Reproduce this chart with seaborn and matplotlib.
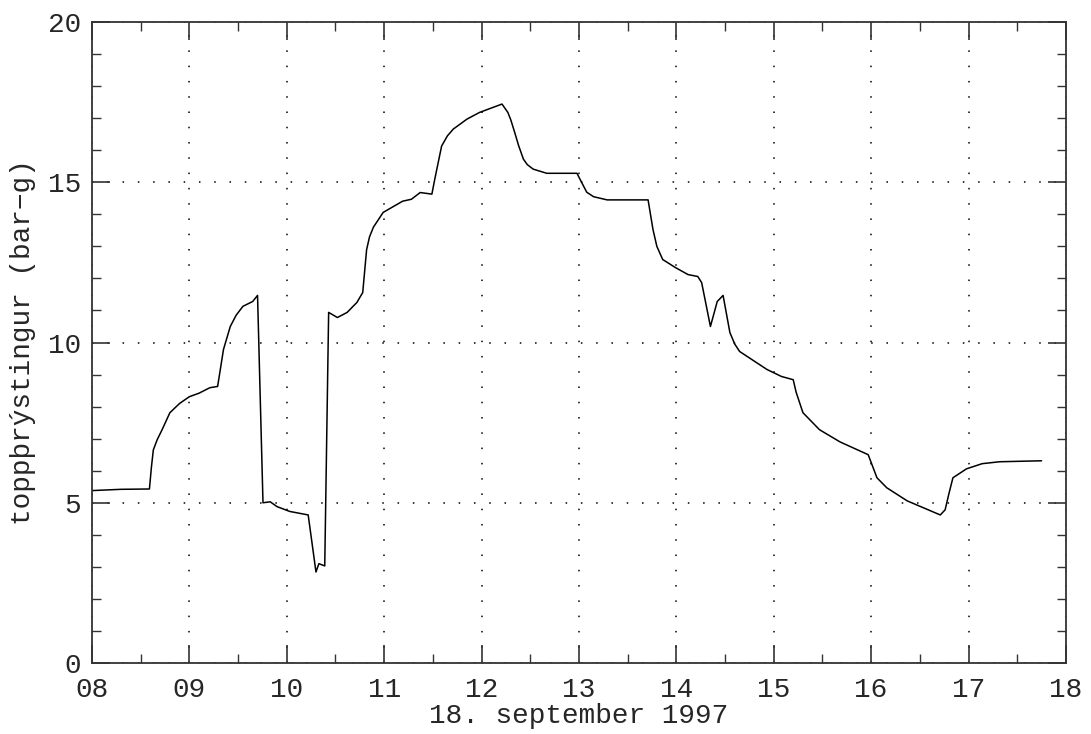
# top pressure during 18 september 1997

#%%
# imports
import numpy as np
import pandas as pd
import matplotlib
matplotlib.use("Agg")
import matplotlib.pyplot as plt
from matplotlib.ticker import MultipleLocator
import seaborn as sns

#%%
# data (hour of day, bar-g)
hours = [8.0, 8.3, 8.59, 8.61, 8.63, 8.67, 8.72, 8.80, 8.9, 9.0, 9.1, 9.21,
         9.29, 9.32, 9.35, 9.42, 9.48, 9.55, 9.65, 9.70, 9.756, 9.83, 9.90,
         10.03, 10.22, 10.30, 10.33, 10.39, 10.43, 10.52, 10.62, 10.72, 10.78,
         10.82, 10.85, 10.89, 10.99, 11.19, 11.28, 11.37, 11.49, 11.52, 11.59,
         11.65, 11.71, 11.85, 11.98, 12.21, 12.27, 12.30, 12.34, 12.38, 12.43,
         12.47, 12.53, 12.67, 12.98, 13.01, 13.08, 13.15, 13.29, 13.71, 13.76,
         13.80, 13.86, 13.99, 14.12, 14.22, 14.26, 14.35, 14.42, 14.48, 14.55,
         14.60, 14.65, 14.93, 15.08, 15.20, 15.23, 15.30, 15.47, 15.68, 15.97,
         16.06, 16.16, 16.37, 16.71, 16.76, 16.80, 16.84, 16.98, 17.14, 17.32,
         17.75]
pressure = [5.38, 5.42, 5.43, 6.1, 6.65, 6.97, 7.28, 7.81, 8.1, 8.31, 8.42, 8.59,
            8.63, 9.2, 9.78, 10.5, 10.85, 11.13, 11.28, 11.47, 5.0, 5.03, 4.88,
            4.73, 4.62, 2.84, 3.1, 3.03, 10.94, 10.78, 10.94, 11.25, 11.56,
            12.9, 13.3, 13.6, 14.06, 14.41, 14.47, 14.68, 14.63, 15.1, 16.13,
            16.45, 16.66, 16.97, 17.18, 17.44, 17.18, 16.95, 16.56, 16.15, 15.72,
            15.55, 15.41, 15.28, 15.28, 15.1, 14.69, 14.55, 14.45, 14.45, 13.53,
            13.0, 12.59, 12.34, 12.12, 12.06, 11.87, 10.5, 11.28, 11.47, 10.31,
            9.95, 9.72, 9.16, 8.94, 8.84, 8.45, 7.81, 7.28, 6.9, 6.5,
            5.78, 5.47, 5.06, 4.62, 4.78, 5.3, 5.78, 6.06, 6.22, 6.28,
            6.31]

xticks = np.arange(8, 19, 1)
xticklabels = ["%02d" % h for h in xticks]
yticks = [0, 5, 10, 15, 20]

df = pd.DataFrame({"hour": hours, "p": pressure})

#%%
# plot
sns.set_style("ticks")
plt.rcParams["font.family"] = ["Liberation Mono", "DejaVu Sans Mono"]

fig = plt.figure(figsize=(10.91, 7.34), dpi=100)
ax = fig.add_axes([0.0843, 0.0967, 0.8927, 0.8733])

sns.lineplot(data=df, x="hour", y="p", ax=ax, color="black",
             linewidth=1.1, sort=False)

ax.set_xlim(8, 18)
ax.set_ylim(0, 20)
ax.set_xticks(xticks)
ax.set_xticklabels(xticklabels)
ax.set_yticks(yticks)
ax.xaxis.set_minor_locator(MultipleLocator(0.5))
ax.yaxis.set_minor_locator(MultipleLocator(1))

ax.tick_params(which="both", direction="in", top=True, right=True,
               color="#333333", labelsize=20)
ax.tick_params(which="major", length=13, width=1.2)
ax.tick_params(which="minor", length=6.5, width=1.0)
ax.tick_params(axis="x", which="major", pad=10)
ax.tick_params(axis="y", which="major", pad=8)

for s in ax.spines.values():
    s.set_linewidth(1.3)
    s.set_color("#333333")

ax.grid(True, which="major", color="black", linewidth=1.1,
        linestyle=(0, (1, 9)))

ax.set_xlabel("18. september 1997", fontsize=20, labelpad=0)
ax.set_ylabel("toppþrýstingur (bar−g)", fontsize=20, labelpad=8)

plt.savefig("out.png", dpi=100)
